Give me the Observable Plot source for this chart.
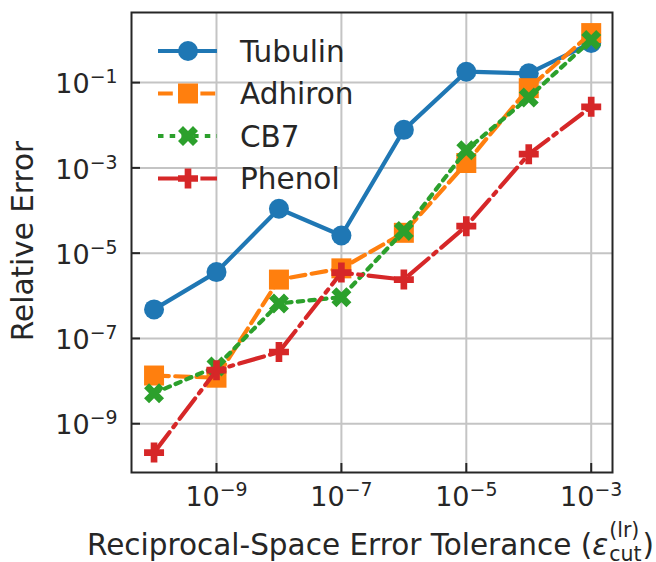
<!DOCTYPE html>
<html><head><meta charset="utf-8">
<script src="https://cdn.jsdelivr.net/npm/d3@7"></script>
<script src="https://cdn.jsdelivr.net/npm/@observablehq/plot@0.6"></script>
<style>
html,body{margin:0;padding:0;background:#fff;}
#chart{width:656px;height:562px;}
</style></head><body><div id="chart"></div>
<script>
// ---- data ----
const tolerances = [1e-10, 1e-9, 1e-8, 1e-7, 1e-6, 1e-5, 1e-4, 1e-3];
const tubulin = [4.8e-7, 3.6e-6, 1.1e-4, 2.6e-5, 7.8e-3, 0.18, 0.165, 0.85];
const adhiron = [1.35e-8, 1.2e-8, 2.4e-6, 4.4e-6, 3.0e-5, 1.3e-3, 0.074, 1.45];
const cb7 = [5.2e-9, 2.2e-8, 6.6e-7, 9.3e-7, 3.3e-5, 2.6e-3, 0.045, 1.0];
const phenol = [2.1e-10, 1.8e-8, 4.8e-8, 3.5e-6, 2.4e-6, 4.3e-5, 2.1e-3, 0.027];
const seriesNames = ["Tubulin", "Adhiron", "CB7", "Phenol"];
const seriesValues = [tubulin, adhiron, cb7, phenol];
const seriesColors = ["#1f77b4", "#ff7f0e", "#2ca02c", "#d62728"];
const seriesDashes = [null, "14.8,6.4", "5.5,6.2", "25.6,6.4,4,6.4"];
const xTicks = [1e-9, 1e-7, 1e-5, 1e-3];
const yTicks = [1e-9, 1e-7, 1e-5, 1e-3, 1e-1];
const xLabel = "Reciprocal-Space Error Tolerance (";
const yLabel = "Relative Error";

// ---- layout ----
const W = 656, H = 562, mL = 131, mR = 44, mT = 12, mB = 90;
const pw = W - mL - mR, ph = H - mT - mB;
const ink = "#262626";
const lineW = 4.2;
const labelSize = 29.5, tickSize = 27, legendSize = 29.5;

// ---- symbols (matplotlib o, s, X, P) ----
const R = s => Math.sqrt(s / Math.PI);
function poly(c, pts, k) { pts.forEach(([x, y], i) => i ? c.lineTo(x * k, y * k) : c.moveTo(x * k, y * k)); c.closePath(); }
const symCircle = {draw(c, s) { const r = R(s); c.moveTo(r, 0); c.arc(0, 0, r, 0, 2 * Math.PI); c.closePath(); }};
const symSquare = {draw(c, s) { const r = R(s); c.rect(-r, -r, 2 * r, 2 * r); }};
const symX = {draw(c, s) { poly(c, [[-1,-2],[0,-1],[1,-2],[2,-1],[1,0],[2,1],[1,2],[0,1],[-1,2],[-2,1],[-1,0],[-2,-1]], R(s) / 2); }};
const symP = {draw(c, s) { poly(c, [[-1,-3],[-1,-1],[-3,-1],[-3,1],[-1,1],[-1,3],[1,3],[1,1],[3,1],[3,-1],[1,-1],[1,-3]], R(s) / 3); }};
const seriesSymbols = [symCircle, symSquare, symX, symP];
const markerR = 10;

const table = seriesNames.flatMap((name, i) => tolerances.map((t, j) => ({series: name, x: t, y: seriesValues[i][j]})));

const seriesMarks = seriesNames.flatMap((name, i) => {
  const d = table.filter(r => r.series === name);
  return [
    Plot.line(d, {x: "x", y: "y", stroke: seriesColors[i], strokeWidth: lineW, strokeDasharray: seriesDashes[i], strokeLinejoin: "round"}),
    Plot.dot(d, {x: "x", y: "y", symbol: seriesSymbols[i], r: markerR, fill: seriesColors[i], stroke: null})
  ];
});

const exp = d => String(Math.round(Math.log10(d)));

const plot = Plot.plot({
  width: W, height: H,
  marginLeft: mL, marginRight: mR, marginTop: mT, marginBottom: mB,
  style: {fontFamily: "'DejaVu Sans', sans-serif", color: ink, background: "white"},
  x: {type: "log", domain: [10 ** -10.361, 10 ** -2.659]},
  y: {type: "log", domain: [10 ** -10.144, 10 ** 0.644]},
  marks: [
    Plot.gridX(xTicks, {stroke: "#c4c4c4", strokeOpacity: 1, strokeWidth: 2}),
    Plot.gridY(yTicks, {stroke: "#c4c4c4", strokeOpacity: 1, strokeWidth: 2}),
    ...seriesMarks,
    Plot.tickX(xTicks, {x: d => d, insetTop: ph - 9, stroke: ink, strokeWidth: 2}),
    Plot.tickY(yTicks, {y: d => d, insetRight: pw - 9, stroke: ink, strokeWidth: 2}),
    Plot.frame({stroke: ink, strokeWidth: 2}),
    Plot.axisX(xTicks, {tickSize: 0, tickPadding: 14.5, fontSize: tickSize, tickFormat: exp, label: null}),
    Plot.axisY(yTicks, {tickSize: 0, tickPadding: 14, fontSize: tickSize, tickFormat: exp, label: null, dy: 2})
  ]
});
document.getElementById("chart").appendChild(plot);

const svg = d3.select(plot);
// superscript tick labels: 10^{-n}
svg.selectAll('g[aria-label="x-axis tick label"] text, g[aria-label="y-axis tick label"] text').each(function () {
  const t = d3.select(this);
  const e = t.text();
  t.text("10");
  t.append("tspan").attr("font-size", "0.7em").attr("dy", -10).text(e.replace("-", "\u2212"));
});

// y label
svg.append("text")
  .attr("transform", `translate(33,${mT + ph / 2 - 1}) rotate(-90)`)
  .attr("text-anchor", "middle").attr("font-size", labelSize).attr("fill", ink)
  .text(yLabel);

// x label with math part
const gx = svg.append("g").attr("fill", ink).attr("font-size", labelSize).attr("text-anchor", "start");
const base = 555, x0 = 87;
const t1 = gx.append("text").attr("x", x0).attr("y", base).text(xLabel);
t1.append("tspan").attr("font-style", "italic").text("\u03b5");
const L1 = t1.node().getComputedTextLength();
const tsub = gx.append("text").attr("x", x0 + L1 + 1).attr("y", base + 6).attr("font-size", 20.5).text("cut");
const tsup = gx.append("text").attr("x", x0 + L1 + 1).attr("y", base - 18).attr("font-size", 20.5).text("(lr)");
const L2 = Math.max(tsub.node().getComputedTextLength(), tsup.node().getComputedTextLength());
gx.append("text").attr("x", x0 + L1 + 2 + L2).attr("y", base).text(")");

// legend
const legRows = [51, 93.5, 136, 178.5];
const lg = svg.append("g").attr("text-anchor", "start");
seriesNames.forEach((name, i) => {
  const y = legRows[i];
  lg.append("line").attr("x1", 158).attr("x2", 217).attr("y1", y).attr("y2", y)
    .attr("stroke", seriesColors[i]).attr("stroke-width", lineW)
    .attr("stroke-dasharray", seriesDashes[i]);
  lg.append("path").attr("transform", `translate(188,${y})`)
    .attr("d", d3.symbol(seriesSymbols[i], Math.PI * markerR * markerR)())
    .attr("fill", seriesColors[i]);
  lg.append("text").attr("x", 240).attr("y", y + 10.8).attr("font-size", legendSize).attr("fill", ink).text(name);
});
</script>
</body></html>
